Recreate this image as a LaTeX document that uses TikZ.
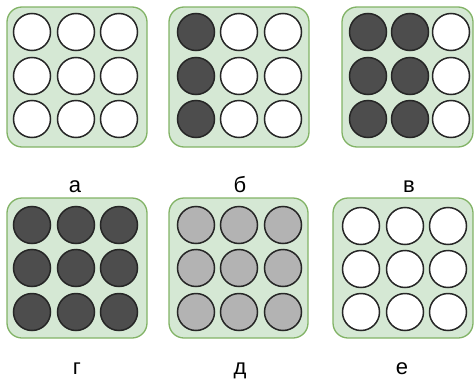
\documentclass[tikz,border=0pt]{standalone}
\usepackage{fontspec}
\setmainfont{Liberation Sans}
\definecolor{trayfill}{HTML}{D5E8D4}
\definecolor{trayline}{HTML}{82B366}
\definecolor{darkfill}{HTML}{4D4D4D}
\definecolor{greyfill}{HTML}{B3B3B3}
\definecolor{holeline}{HTML}{262626}
\begin{document}
\begin{tikzpicture}[x=1pt,y=-1pt,
  tray/.style={draw=trayline, fill=trayfill, rounded corners=15pt, line width=1.3pt, inner sep=0pt},
  hole/.style={circle, draw=holeline, line width=1.5pt, minimum size=37pt, inner sep=0pt},
  emptyhole/.style={hole, fill=white},
  darkhole/.style={hole, fill=darkfill},
  greyhole/.style={hole, fill=greyfill},
  lbl/.style={font=\fontsize{22}{26}\selectfont, anchor=base, inner sep=0pt}]
\path[use as bounding box] (0,0) rectangle (474,383);
% panel a
\node[tray, minimum width=140pt, minimum height=140pt] (ta) at (77,77) {};
\foreach \c/\x in {1/32,2/76,3/119}
  \foreach \r/\y in {1/32,2/76,3/119}
    \node[emptyhole] (a\r\c) at (\x,\y) {};
\node[lbl] (la) at (75,192) {а};
% panel b
\node[tray, minimum width=140pt, minimum height=140pt] (tb) at (239,77) {};
\foreach \r/\y in {1/32,2/76,3/119}{
  \node[darkhole] (b\r1) at (196,\y) {};
  \node[emptyhole] (b\r2) at (239,\y) {};
  \node[emptyhole] (b\r3) at (283,\y) {};
}
\node[lbl] (lb) at (240,192) {б};
% panel v
\node[tray, minimum width=131pt, minimum height=140pt] (tv) at (407.5,77) {};
\foreach \r/\y in {1/32,2/76,3/119}{
  \node[darkhole] (v\r1) at (368,\y) {};
  \node[darkhole] (v\r2) at (410,\y) {};
  \node[emptyhole] (v\r3) at (451,\y) {};
}
\node[lbl] (lv) at (409,192) {в};
% panel g
\node[tray, minimum width=140pt, minimum height=140pt] (tg) at (77,268) {};
\foreach \c/\x in {1/32,2/76,3/119}
  \foreach \r/\y in {1/225,2/268,3/312}
    \node[darkhole] (g\r\c) at (\x,\y) {};
\node[lbl] (lg) at (77,374) {г};
% panel d
\node[tray, minimum width=139pt, minimum height=140pt] (td) at (238.5,268) {};
\foreach \c/\x in {1/196,2/239,3/283}
  \foreach \r/\y in {1/225,2/268,3/312}
    \node[greyhole] (d\r\c) at (\x,\y) {};
\node[lbl] (ld) at (240,374) {д};
% panel e
\node[tray, minimum width=140pt, minimum height=140pt] (te) at (403,268) {};
\foreach \c/\x in {1/361,2/405,3/448}
  \foreach \r/\y in {1/226,2/269,3/312}
    \node[emptyhole] (e\r\c) at (\x,\y) {};
\node[lbl] (le) at (402,374) {е};
\end{tikzpicture}
\end{document}
